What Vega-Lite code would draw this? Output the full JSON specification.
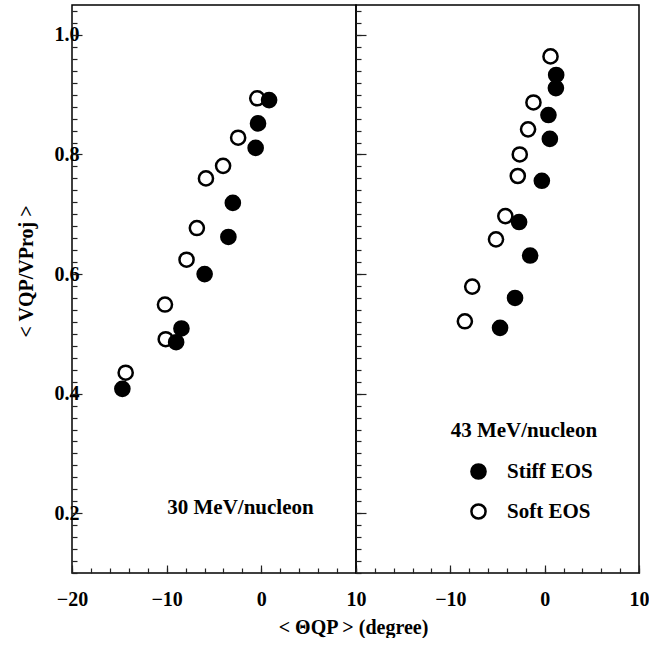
{
  "$schema": "https://vega.github.io/schema/vega-lite/v6.json",
  "background": "white",
  "padding": {"left": 15, "top": 4, "right": 0, "bottom": 0},
  "datasets": {
    "left": [
      {"theta": -0.43, "v": 0.894, "eos": "Soft EOS"},
      {"theta": -2.45, "v": 0.828, "eos": "Soft EOS"},
      {"theta": -4.04, "v": 0.781, "eos": "Soft EOS"},
      {"theta": -5.85, "v": 0.760, "eos": "Soft EOS"},
      {"theta": -6.81, "v": 0.677, "eos": "Soft EOS"},
      {"theta": -7.9, "v": 0.624, "eos": "Soft EOS"},
      {"theta": -10.18, "v": 0.549, "eos": "Soft EOS"},
      {"theta": -10.1, "v": 0.491, "eos": "Soft EOS"},
      {"theta": -14.33, "v": 0.435, "eos": "Soft EOS"},
      {"theta": 0.82, "v": 0.891, "eos": "Stiff EOS"},
      {"theta": -0.35, "v": 0.852, "eos": "Stiff EOS"},
      {"theta": -0.6, "v": 0.811, "eos": "Stiff EOS"},
      {"theta": -3.01, "v": 0.719, "eos": "Stiff EOS"},
      {"theta": -3.48, "v": 0.662, "eos": "Stiff EOS"},
      {"theta": -5.99, "v": 0.600, "eos": "Stiff EOS"},
      {"theta": -8.44, "v": 0.509, "eos": "Stiff EOS"},
      {"theta": -9.0, "v": 0.486, "eos": "Stiff EOS"},
      {"theta": -14.68, "v": 0.408, "eos": "Stiff EOS"}
    ],
    "right": [
      {"theta": 0.62, "v": 0.964, "eos": "Soft EOS"},
      {"theta": -1.19, "v": 0.887, "eos": "Soft EOS"},
      {"theta": -1.76, "v": 0.842, "eos": "Soft EOS"},
      {"theta": -2.64, "v": 0.800, "eos": "Soft EOS"},
      {"theta": -2.85, "v": 0.764, "eos": "Soft EOS"},
      {"theta": -4.17, "v": 0.697, "eos": "Soft EOS"},
      {"theta": -5.16, "v": 0.658, "eos": "Soft EOS"},
      {"theta": -7.68, "v": 0.579, "eos": "Soft EOS"},
      {"theta": -8.46, "v": 0.521, "eos": "Soft EOS"},
      {"theta": 1.22, "v": 0.933, "eos": "Stiff EOS"},
      {"theta": 1.19, "v": 0.911, "eos": "Stiff EOS"},
      {"theta": 0.40, "v": 0.866, "eos": "Stiff EOS"},
      {"theta": 0.55, "v": 0.826, "eos": "Stiff EOS"},
      {"theta": -0.30, "v": 0.756, "eos": "Stiff EOS"},
      {"theta": -2.71, "v": 0.687, "eos": "Stiff EOS"},
      {"theta": -1.54, "v": 0.631, "eos": "Stiff EOS"},
      {"theta": -3.14, "v": 0.560, "eos": "Stiff EOS"},
      {"theta": -4.73, "v": 0.510, "eos": "Stiff EOS"}
    ],
    "leftLabel": [{"theta": -2.2, "v": 0.208, "label": "30 MeV/nucleon"}],
    "rightLabel": [{"theta": -2.2, "v": 0.3375, "label": "43 MeV/nucleon"}]
  },
  "spacing": 0,
  "bounds": "flush",
  "hconcat": [
    {
      "width": 284,
      "height": 568,
      "layer": [
        {
          "data": {"name": "left"},
          "mark": {"type": "point", "shape": "circle", "size": 200, "stroke": "black", "strokeWidth": 2.5, "opacity": 1},
          "encoding": {
            "x": {"field": "theta", "type": "quantitative",
              "scale": {"domain": [-20, 10], "nice": false, "zero": false},
              "axis": {"orient": "bottom", "values": [-20, -10, 0, 10], "tickSize": -8, "labelPadding": 24,
                "title": "< ΘQP > (degree)", "titleX": 281, "titleY": 54, "titleBaseline": "middle", "titleAnchor": "middle", "titleAlign": "center"}},
            "y": {"field": "v", "type": "quantitative",
              "scale": {"domain": [0.1, 1.05], "nice": false, "zero": false},
              "axis": {"orient": "left", "values": [0.2, 0.4, 0.6, 0.8, 1.0], "format": ".1f", "tickSize": -10, "labelPadding": 3,
                "title": "< VQP/VProj >", "titleX": -46, "titleY": 266, "titleBaseline": "middle", "titleAnchor": "middle", "titleAlign": "center", "titleAngle": -90}},
            "fill": {"field": "eos", "type": "nominal",
              "scale": {"domain": ["Stiff EOS", "Soft EOS"], "range": ["black", "white"]},
              "legend": {"orient": "none", "legendX": 396, "legendY": 456, "title": null, "direction": "vertical"}}
          }
        },
        {
          "data": {"name": "leftLabel"},
          "mark": {"type": "text", "font": "Liberation Serif", "fontWeight": "bold", "fontSize": 21, "color": "black"},
          "encoding": {
            "x": {"field": "theta", "type": "quantitative",
              "scale": {"domain": [-20, 10], "nice": false, "zero": false},
              "axis": {"orient": "bottom", "values": [-20, -18, -16, -14, -12, -10, -8, -6, -4, -2, 0, 2, 4, 6, 8, 10], "labels": false, "tickSize": -5, "title": null}},
            "y": {"field": "v", "type": "quantitative",
              "scale": {"domain": [0.1, 1.05], "nice": false, "zero": false},
              "axis": {"orient": "left", "values": [0.1, 0.12, 0.14, 0.16, 0.18, 0.2, 0.22, 0.24, 0.26, 0.28, 0.3, 0.32, 0.34, 0.36, 0.38, 0.4, 0.42, 0.44, 0.46, 0.48, 0.5, 0.52, 0.54, 0.56, 0.58, 0.6, 0.62, 0.64, 0.66, 0.68, 0.7, 0.72, 0.74, 0.76, 0.78, 0.8, 0.82, 0.84, 0.86, 0.88, 0.9, 0.92, 0.94, 0.96, 0.98, 1.0, 1.02, 1.04], "labels": false, "tickSize": -5, "title": null}},
            "text": {"field": "label", "type": "nominal"}
          }
        }
      ],
      "resolve": {"axis": {"x": "independent", "y": "independent"}}
    },
    {
      "width": 283,
      "height": 568,
      "layer": [
        {
          "data": {"name": "right"},
          "mark": {"type": "point", "shape": "circle", "size": 200, "stroke": "black", "strokeWidth": 2.5, "opacity": 1},
          "encoding": {
            "x": {"field": "theta", "type": "quantitative",
              "scale": {"domain": [-20, 10], "nice": false, "zero": false},
              "axis": {"orient": "bottom", "values": [-10, 0, 10], "tickSize": -8, "labelPadding": 24, "title": null}},
            "y": {"field": "v", "type": "quantitative",
              "scale": {"domain": [0.1, 1.05], "nice": false, "zero": false},
              "axis": {"orient": "left", "values": [0.2, 0.4, 0.6, 0.8, 1.0], "labels": false, "tickSize": -10, "title": null}},
            "fill": {"field": "eos", "type": "nominal",
              "scale": {"domain": ["Stiff EOS", "Soft EOS"], "range": ["black", "white"]},
              "legend": {"orient": "none", "legendX": 396, "legendY": 456, "title": null, "direction": "vertical"}}
          }
        },
        {
          "data": {"name": "rightLabel"},
          "mark": {"type": "text", "font": "Liberation Serif", "fontWeight": "bold", "fontSize": 21, "color": "black"},
          "encoding": {
            "x": {"field": "theta", "type": "quantitative",
              "scale": {"domain": [-20, 10], "nice": false, "zero": false},
              "axis": {"orient": "bottom", "values": [-20, -18, -16, -14, -12, -10, -8, -6, -4, -2, 0, 2, 4, 6, 8, 10], "labels": false, "tickSize": -5, "title": null}},
            "y": {"field": "v", "type": "quantitative",
              "scale": {"domain": [0.1, 1.05], "nice": false, "zero": false},
              "axis": {"orient": "left", "values": [0.1, 0.12, 0.14, 0.16, 0.18, 0.2, 0.22, 0.24, 0.26, 0.28, 0.3, 0.32, 0.34, 0.36, 0.38, 0.4, 0.42, 0.44, 0.46, 0.48, 0.5, 0.52, 0.54, 0.56, 0.58, 0.6, 0.62, 0.64, 0.66, 0.68, 0.7, 0.72, 0.74, 0.76, 0.78, 0.8, 0.82, 0.84, 0.86, 0.88, 0.9, 0.92, 0.94, 0.96, 0.98, 1.0, 1.02, 1.04], "labels": false, "tickSize": -5, "title": null}},
            "text": {"field": "label", "type": "nominal"}
          }
        }
      ],
      "resolve": {"axis": {"x": "independent", "y": "independent"}}
    }
  ],
  "config": {
    "view": {"stroke": "black", "strokeWidth": 1.5},
    "font": "Liberation Serif",
    "axis": {"domain": false, "grid": false, "tickColor": "#222", "tickWidth": 1.2,
      "labelFont": "Liberation Serif", "labelFontWeight": "bold", "labelFontSize": 20, "labelColor": "black",
      "labelFlush": false, "labelOverlap": false,
      "titleFont": "Liberation Serif", "titleFontWeight": "bold", "titleFontSize": 20, "titleColor": "black"},
    "legend": {"symbolType": "circle", "symbolSize": 200, "symbolStrokeColor": "black", "symbolStrokeWidth": 2.5, "symbolOpacity": 1,
      "labelFont": "Liberation Serif", "labelFontWeight": "bold", "labelFontSize": 21, "labelColor": "black",
      "labelOffset": 18, "rowPadding": 15}
  }
}
